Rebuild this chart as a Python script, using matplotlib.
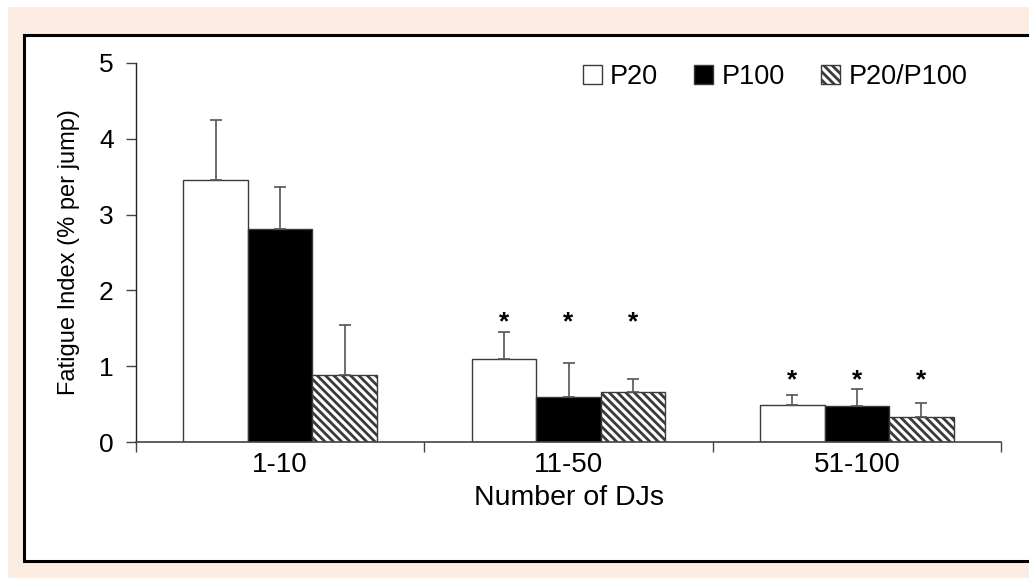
import matplotlib
matplotlib.use("Agg")
import matplotlib.pyplot as plt
from matplotlib.patches import Rectangle, Patch
import numpy as np

plt.rcParams['font.family'] = ['Liberation Sans', 'DejaVu Sans']
plt.rcParams['hatch.linewidth'] = 2.0
plt.rcParams['hatch.color'] = 'black'

# Fatigue index per block of drop jumps
categories = ["1-10", "11-50", "51-100"]
p20 = [3.45, 1.10, 0.49]
p20_sd = [0.80, 0.35, 0.13]
p100 = [2.81, 0.60, 0.48]
p100_sd = [0.56, 0.44, 0.22]
ratio = [0.89, 0.66, 0.33]
ratio_sd = [0.65, 0.17, 0.19]
# significance markers (y position in data units) per block, None = not significant
star_y = [None, 1.58, 0.82]
series_names = ["P20", "P100", "P20/P100"]
yticks = [0, 1, 2, 3, 4, 5]

W, H = 1029, 578
fig = plt.figure(figsize=(W / 100, H / 100), dpi=100)
fig.patch.set_facecolor('white')

# peach backdrop and white framed panel
fig.patches.append(Rectangle((8 / W, 0), 1 - 8 / W, 1 - 7 / H, transform=fig.transFigure,
                             facecolor='#fdece2', edgecolor='none', zorder=-10))
fig.patches.append(Rectangle((24 / W, 1 - 561 / H), 1.2, (561 - 35) / H, transform=fig.transFigure,
                             facecolor='white', edgecolor='black', linewidth=2.2, zorder=-9))

ax = fig.add_axes([136 / W, 1 - 442 / H, (1001 - 136) / W, (442 - 63) / H])
ax.set_facecolor('none')

x = np.arange(len(categories))
bw = 0.2236
edge = '#3a3a3a'
err_kw = dict(ecolor='#555555', elinewidth=1.2, capsize=4.5, capthick=1.2)
hatch = '\\\\\\\\'

ax.bar(x - bw, p20, bw, color='white', edgecolor=edge, linewidth=1.0)
ax.errorbar(x - bw, p20, yerr=[np.zeros(3), p20_sd], fmt='none', **err_kw)
ax.bar(x, p100, bw, color='black', edgecolor=edge, linewidth=1.0)
ax.errorbar(x, p100, yerr=[np.zeros(3), p100_sd], fmt='none', **err_kw)
ax.bar(x + bw, ratio, bw, color='white', edgecolor=edge, linewidth=1.0, hatch=hatch)
ax.errorbar(x + bw, ratio, yerr=[np.zeros(3), ratio_sd], fmt='none', **err_kw)

for xi, sy in zip(x, star_y):
    if sy is None:
        continue
    for off in (-bw, 0, bw):
        ax.text(xi + off, sy, '*', ha='center', va='center', fontsize=19, fontweight='bold')

ax.set_xlim(-0.5, 2.5)
ax.set_ylim(0, 5)
ax.set_yticks(yticks)
ax.set_xticks(x)
ax.set_xticklabels(categories)
ax.set_xticks([-0.5, 0.5, 1.5, 2.5], minor=True)
ax.tick_params(axis='x', which='major', length=0, pad=7, labelsize=20)
ax.tick_params(axis='x', which='minor', length=7, width=1, color='#444444')
ax.tick_params(axis='y', length=7, width=1, color='#444444', pad=9, labelsize=19)
for s in ('top', 'right'):
    ax.spines[s].set_visible(False)
ax.spines['left'].set_color('#222222')
ax.spines['bottom'].set_color('#444444')
ax.spines['left'].set_linewidth(1.0)
ax.spines['bottom'].set_linewidth(1.2)

ax.set_ylabel("Fatigue Index (% per jump)", fontsize=17, labelpad=14)
ax.set_xlabel("Number of DJs", fontsize=20.5, labelpad=5)

handles = [Patch(facecolor='white', edgecolor=edge, linewidth=1.0),
           Patch(facecolor='black', edgecolor=edge),
           Patch(facecolor='white', edgecolor=edge, hatch=hatch)]
ax.legend(handles, series_names, ncol=3, frameon=False, fontsize=19.5,
          loc='upper right', bbox_to_anchor=(978 / W, 1 - 53 / H),
          bbox_transform=fig.transFigure,
          handlelength=0.7, handleheight=0.7, handletextpad=0.3,
          columnspacing=1.35, borderaxespad=0)

fig.savefig("out.png", dpi=100)
